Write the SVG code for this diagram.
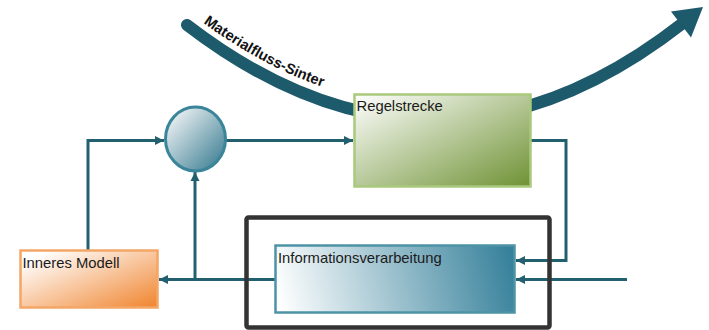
<svg xmlns="http://www.w3.org/2000/svg" width="709" height="330" viewBox="0 0 709 330">
<defs>
<style>
.lbl{font-family:"Liberation Sans",Arial,sans-serif;font-size:14.8px;fill:#1a1a1a}
.conn{fill:none;stroke:#22606f;stroke-width:3}
.flow{fill:none;stroke:#1d5a6b;stroke-width:12;stroke-linecap:round}
</style>
<linearGradient id="gGreen" x1="0" y1="0" x2="1" y2="1">
<stop offset="0" stop-color="#ffffff"/>
<stop offset="1" stop-color="#6f9234"/>
</linearGradient>
<linearGradient id="gOrange" x1="0" y1="0" x2="1" y2="1">
<stop offset="0.1" stop-color="#ffffff"/>
<stop offset="1" stop-color="#f0842e"/>
</linearGradient>
<linearGradient id="gBlue" gradientUnits="userSpaceOnUse" x1="285" y1="325" x2="515" y2="265">
<stop offset="0" stop-color="#ffffff"/>
<stop offset="1" stop-color="#35809a"/>
</linearGradient>
<linearGradient id="gCircle" x1="0.1" y1="0.1" x2="0.95" y2="0.95">
<stop offset="0" stop-color="#eef2f4"/>
<stop offset="1" stop-color="#3a7d92"/>
</linearGradient>
<marker id="arr" markerUnits="userSpaceOnUse" markerWidth="10" markerHeight="10" refX="9" refY="5" orient="auto">
<path d="M0,0.5 L9,5 L0,9.5 z" fill="#22606f"/>
</marker>
<path id="txtPath" d="M187,11 Q436,203 683,9"/>
</defs>

<g id="materialfluss">
<path class="flow" d="M187,25 Q436,216 683,23"/>
<polygon points="703,7 691,37.5 671,11.5" fill="#1d5a6b"/>
<text font-family="'Liberation Sans',Arial,sans-serif" font-weight="bold" font-size="14.6" fill="#111"><textPath href="#txtPath" startOffset="20">Materialfluss-Sinter</textPath></text>
</g>

<g id="connectors">
<path class="conn" d="M88,250 V140.5 H164" marker-end="url(#arr)"/>
<path class="conn" d="M226,140.5 H353" marker-end="url(#arr)"/>
<path class="conn" d="M531,140.5 H566 V260.5 H516" marker-end="url(#arr)"/>
<path class="conn" d="M627,279.5 H516" marker-end="url(#arr)"/>
<path class="conn" d="M275,279.5 H159" marker-end="url(#arr)"/>
<path class="conn" d="M195,279.5 V172" marker-end="url(#arr)"/>
</g>

<g id="summierer">
<ellipse cx="195.5" cy="139" rx="30" ry="32" fill="url(#gCircle)" stroke="#3a8599" stroke-width="3"/>
</g>

<g id="regelstrecke">
<rect x="354.5" y="94.5" width="176" height="92" fill="url(#gGreen)" stroke="#a9c97c" stroke-width="2.5"/>
<text class="lbl" x="356.5" y="110.5">Regelstrecke</text>
</g>

<g id="rahmen">
<rect x="246.5" y="217.5" width="303" height="110" rx="2" fill="none" stroke="#333333" stroke-width="4.5"/>
</g>

<g id="informationsverarbeitung">
<rect x="275.5" y="245.5" width="239" height="67" fill="url(#gBlue)" stroke="#4d93a6" stroke-width="2.5"/>
<text class="lbl" x="278" y="263">Informationsverarbeitung</text>
</g>

<g id="inneres-modell">
<rect x="20.5" y="250.5" width="137" height="57" fill="url(#gOrange)" stroke="#f3a666" stroke-width="2.5"/>
<text class="lbl" x="22.5" y="267.5">Inneres Modell</text>
</g>
</svg>
